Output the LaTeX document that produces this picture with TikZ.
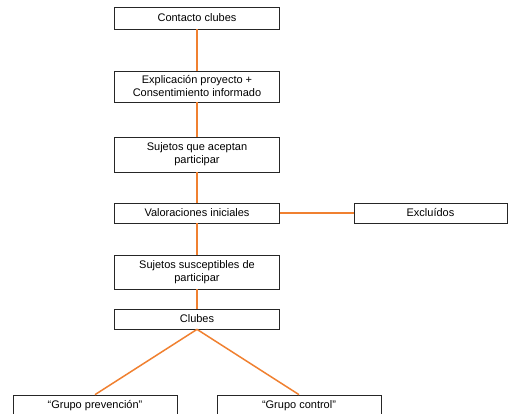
\documentclass[tikz,border=0pt]{standalone}
\usepackage{fontspec}
\setmainfont{Liberation Sans}
\usepackage{xcolor}
\usetikzlibrary{shadows}
\definecolor{naranja}{RGB}{240,128,48}
\tikzstyle{caja} = [draw=black!85, fill=white, line width=0.7pt,
rectangle, minimum width=165pt, inner sep=1pt, align=center,
font=\fontsize{11}{13}\selectfont,
drop shadow={shadow xshift=0.6pt, shadow yshift=-0.8pt, opacity=0.8}]
\tikzstyle{enlace} = [draw=naranja, line width=1.5pt]

\begin{document}
\begin{tikzpicture}[x=1pt, y=-1pt]
        \useasboundingbox (0,0) rectangle (509,414);
        % columna principal
        \node [caja, minimum height=22pt] (contacto) at (197,18) {Contacto clubes};
        \node [caja, minimum height=31pt] (explicacion) at (197,86.5)
            {Explicación proyecto +\\Consentimiento informado};
        \node [caja, minimum height=35pt] (aceptan) at (197,154.5)
            {Sujetos que aceptan\\participar};
        \node [caja, minimum height=20pt] (valoraciones) at (197,213) {Valoraciones iniciales};
        \node [caja, minimum height=20pt, minimum width=153pt] (excluidos) at (430.5,213) {Excluídos};
        \node [caja, minimum height=34pt] (susceptibles) at (197,272)
            {Sujetos susceptibles de\\participar};
        \node [caja, minimum height=20pt] (clubes) at (197,319) {Clubes};
        % grupos
        \node [caja, minimum height=22pt, minimum width=164pt] (prevencion) at (95,406) {“Grupo prevención”};
        \node [caja, minimum height=22pt, minimum width=164pt] (control) at (299,406) {“Grupo control”};

        \draw [enlace] (contacto) -- (explicacion);
        \draw [enlace] (explicacion) -- (aceptan);
        \draw [enlace] (aceptan) -- (valoraciones);
        \draw [enlace] (valoraciones) -- (excluidos);
        \draw [enlace] (valoraciones) -- (susceptibles);
        \draw [enlace] (susceptibles) -- (clubes);
        \draw [enlace] (clubes.south) -- (prevencion.north);
        \draw [enlace] (clubes.south) -- (control.north);
    \end{tikzpicture}
\end{document}
